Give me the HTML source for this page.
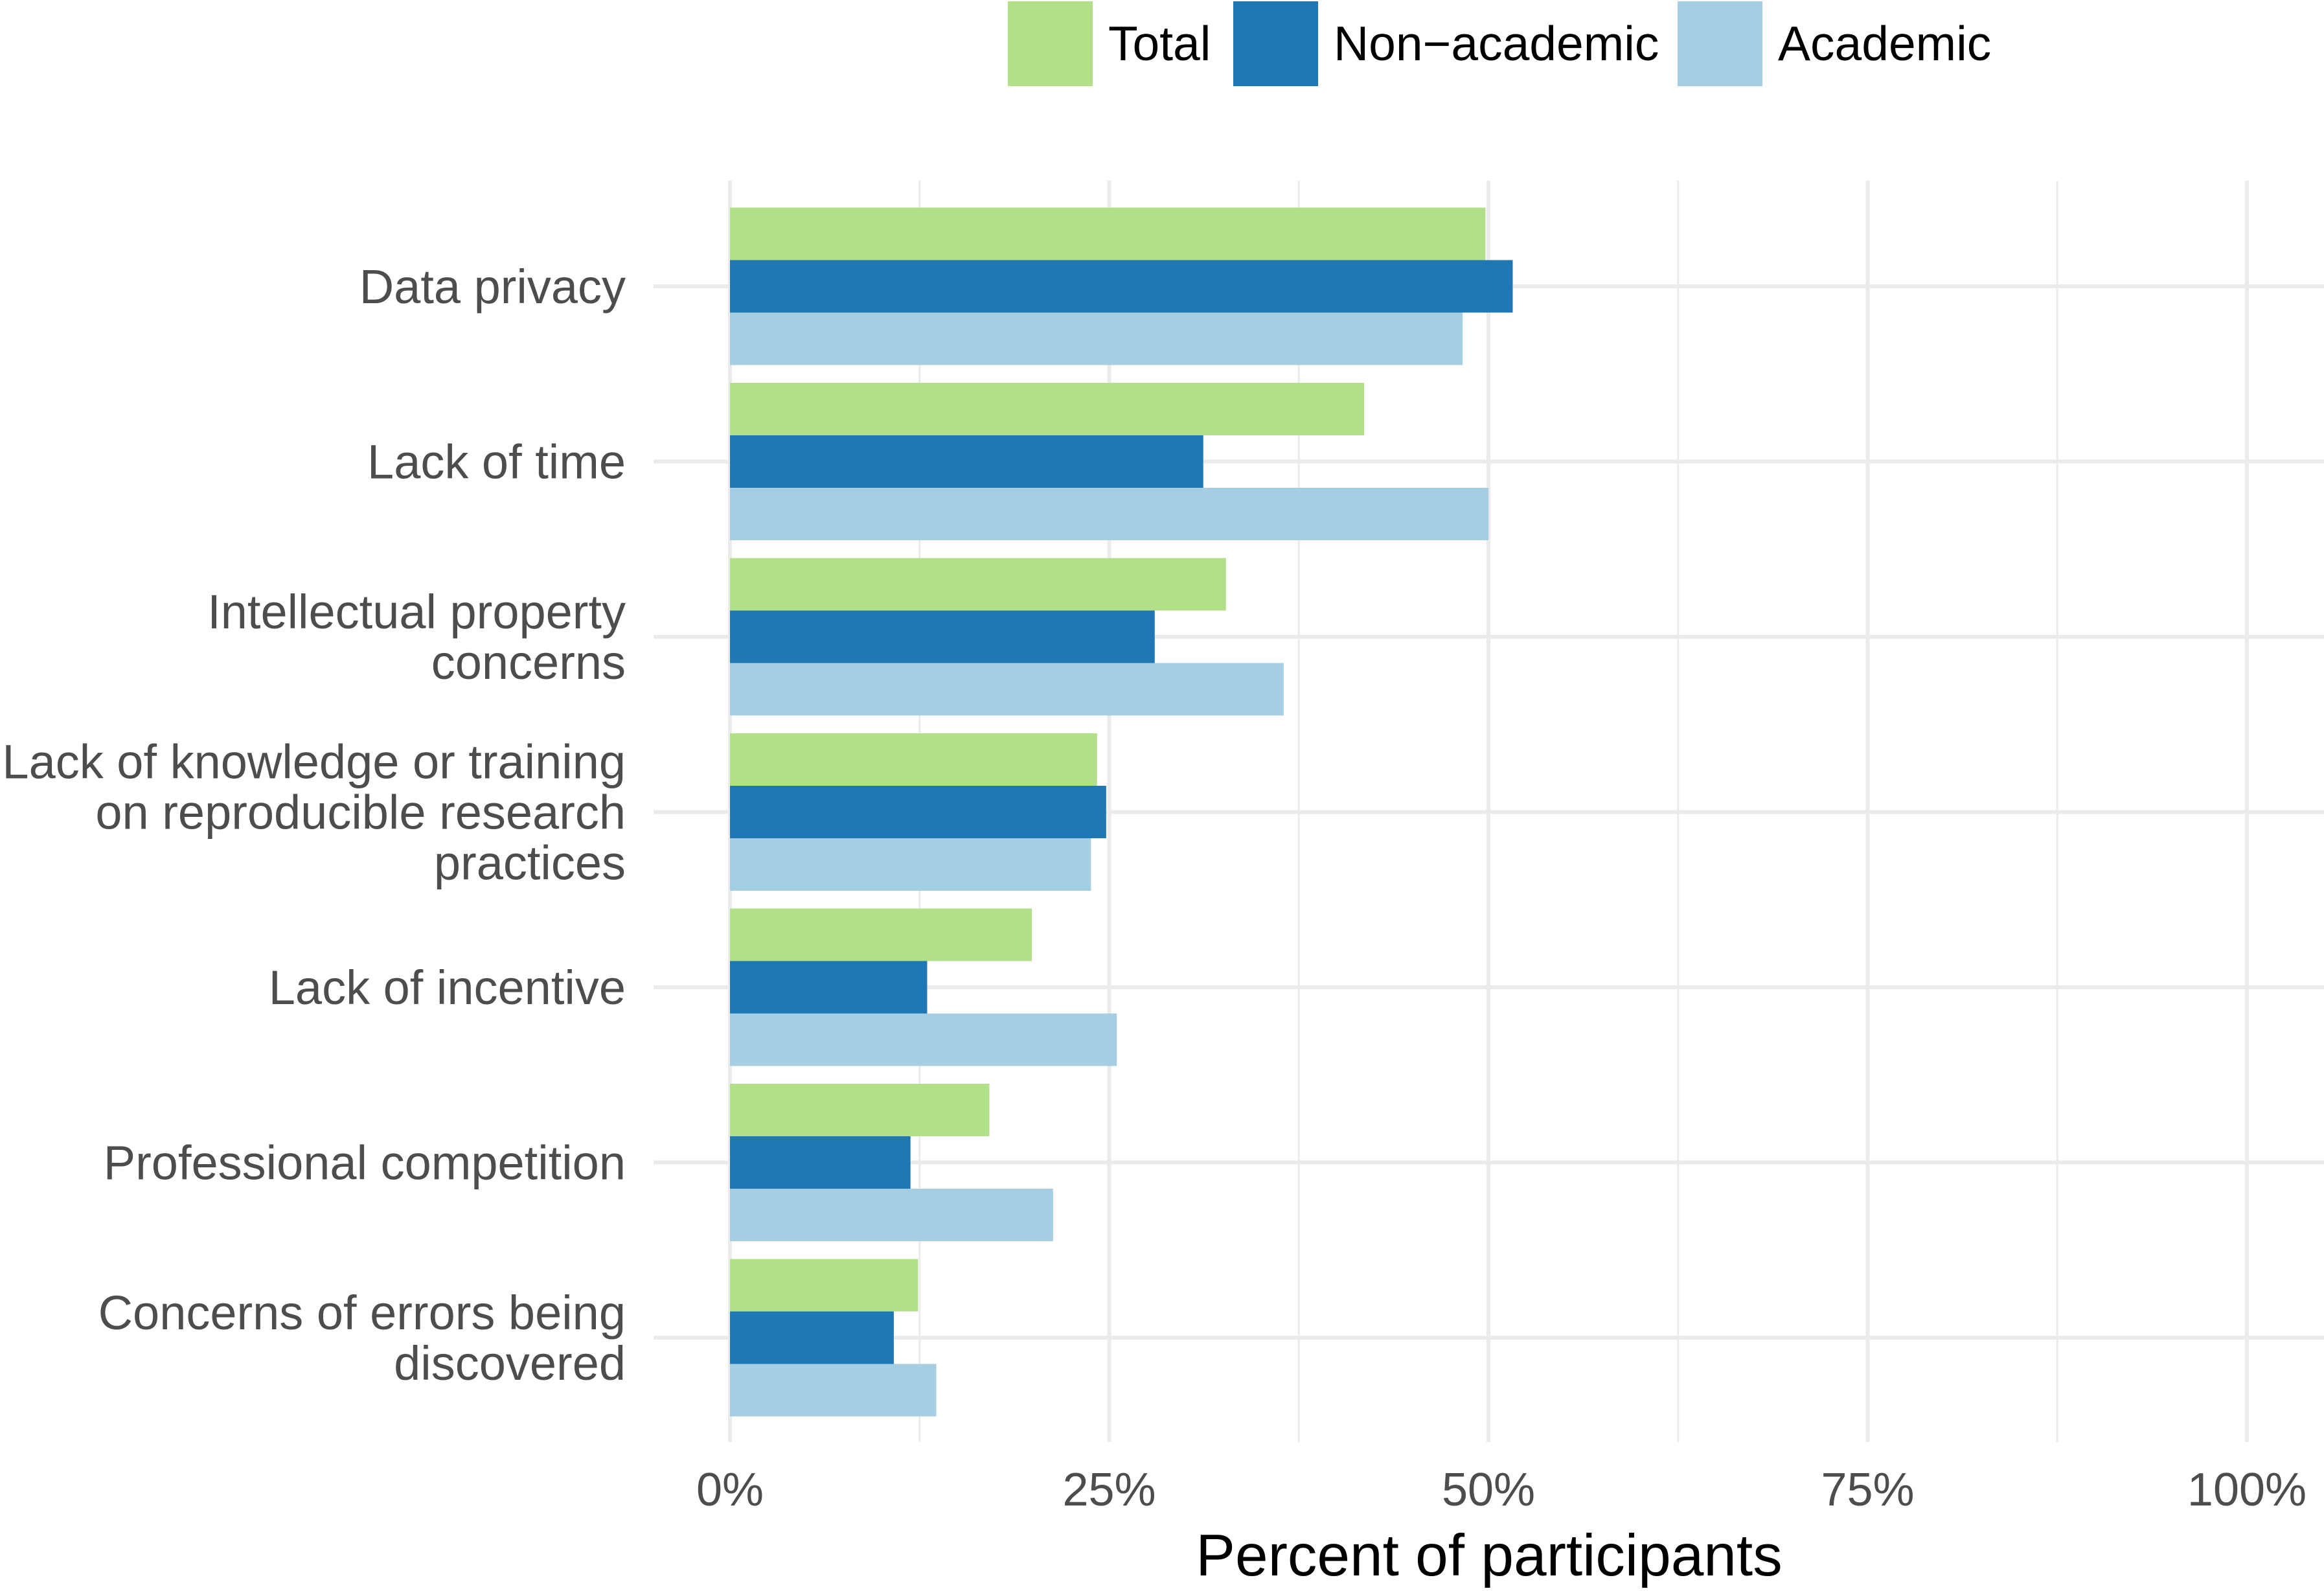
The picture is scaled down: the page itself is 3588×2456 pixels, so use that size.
<!DOCTYPE html>
<html><head><meta charset="utf-8"><style>
html,body{margin:0;padding:0;background:#fff;}
svg{display:block;font-family:"Liberation Sans",Arial,sans-serif;}
</style></head><body>
<svg id="chart" width="3588" height="2456" viewBox="0 0 3588 2456">
<g id="grid"></g>
<g id="bars"></g>
<g id="ylabels"></g>
<g id="xlabels"></g>
<text x="2299" y="2432" font-size="91" text-anchor="middle" fill="#000">Percent of participants</text>
<g id="legend"></g>
</svg>
<script>
const categories = [
  ["Data privacy"],
  ["Lack of time"],
  ["Intellectual property","concerns"],
  ["Lack of knowledge or training","on reproducible research","practices"],
  ["Lack of incentive"],
  ["Professional competition"],
  ["Concerns of errors being","discovered"]
];
const totalValues = [49.8, 41.8, 32.7, 24.2, 19.9, 17.1, 12.4];
const nonAcademicValues = [51.6, 31.2, 28.0, 24.8, 13.0, 11.9, 10.8];
const academicValues = [48.3, 50.0, 36.5, 23.8, 25.5, 21.3, 13.6];
const seriesNames = ["Total", "Non\u2212academic", "Academic"];
const tickValues = [0, 25, 50, 75, 100];
const tickLabels = ["0%", "25%", "50%", "75%", "100%"];

const NS = "http://www.w3.org/2000/svg";
const colors = ["#b2df8a", "#1f78b4", "#a6cee3"];
const x0 = 1127, x1 = 3469, xMin = 0, xMax = 100;
const xScale = v => x0 + (v - xMin) / (xMax - xMin) * (x1 - x0);
const yTop = 442, yStep = 270.5;
const yScale = i => yTop + i * yStep;
const barH = 81;
const panelTop = 279, panelBottom = 2226, panelLeft = 1009, panelRight = 3588;
function mk(tag, attrs, parent){const e=document.createElementNS(NS,tag);for(const k in attrs)e.setAttribute(k,attrs[k]);parent.appendChild(e);return e;}

const grid = document.getElementById('grid');
for (let i = 0; i < tickValues.length; i++) {
  const l = mk('line', {x1:xScale(tickValues[i]), x2:xScale(tickValues[i]), y1:panelTop, y2:panelBottom, stroke:'#ebebeb', 'stroke-width':6}, grid);
  
  
  if (i < tickValues.length - 1) {
    const m = (tickValues[i] + tickValues[i+1]) / 2;
    const ml = mk('line', {x1:xScale(m), x2:xScale(m), y1:panelTop, y2:panelBottom, stroke:'#ebebeb', 'stroke-width':3}, grid);
    
    
  }
}
categories.forEach((c, i) => {
  const l = mk('line', {x1:panelLeft, x2:panelRight, y1:yScale(i), y2:yScale(i), stroke:'#ebebeb', 'stroke-width':6}, grid);
  
  
});

const bars = document.getElementById('bars');
const series = [totalValues, nonAcademicValues, academicValues];
categories.forEach((c, i) => {
  series.forEach((vals, s) => {
    const y = yScale(i) - 1.5 * barH + s * barH;
    const r = mk('rect', {x:xScale(0), y:y, width:xScale(vals[i]) - xScale(0), height:barH, fill:colors[s]}, bars);
    
    
  });
});

const yl = document.getElementById('ylabels');
categories.forEach((lines, i) => {
  const lh = 78;
  const startY = yScale(i) - (lines.length - 1) * lh / 2 + 26;
  const t = mk('text', {x:966, 'font-size':74, fill:'#4d4d4d', 'text-anchor':'end'}, yl);
  
  
  lines.forEach((ln, j) => {
    const ts = mk('tspan', {x:966, y:startY + j * lh}, t);
    ts.textContent = ln;
  });
});

const xl = document.getElementById('xlabels');
tickValues.forEach((v, i) => {
  const t = mk('text', {x:xScale(v), y:2324, 'font-size':72, fill:'#4d4d4d', 'text-anchor':'middle'}, xl);
  
  
  t.textContent = tickLabels[i];
});

const lg = document.getElementById('legend');
const keyX = [1556, 1904, 2590];
seriesNames.forEach((n, s) => {
  const r = mk('rect', {x:keyX[s], y:2, width:131, height:131, fill:colors[s]}, lg);
  
  
  const t = mk('text', {x:keyX[s] + 155, y:93, 'font-size':75, fill:'#000'}, lg);
  
  
  t.textContent = n;
});
</script>
</body></html>
